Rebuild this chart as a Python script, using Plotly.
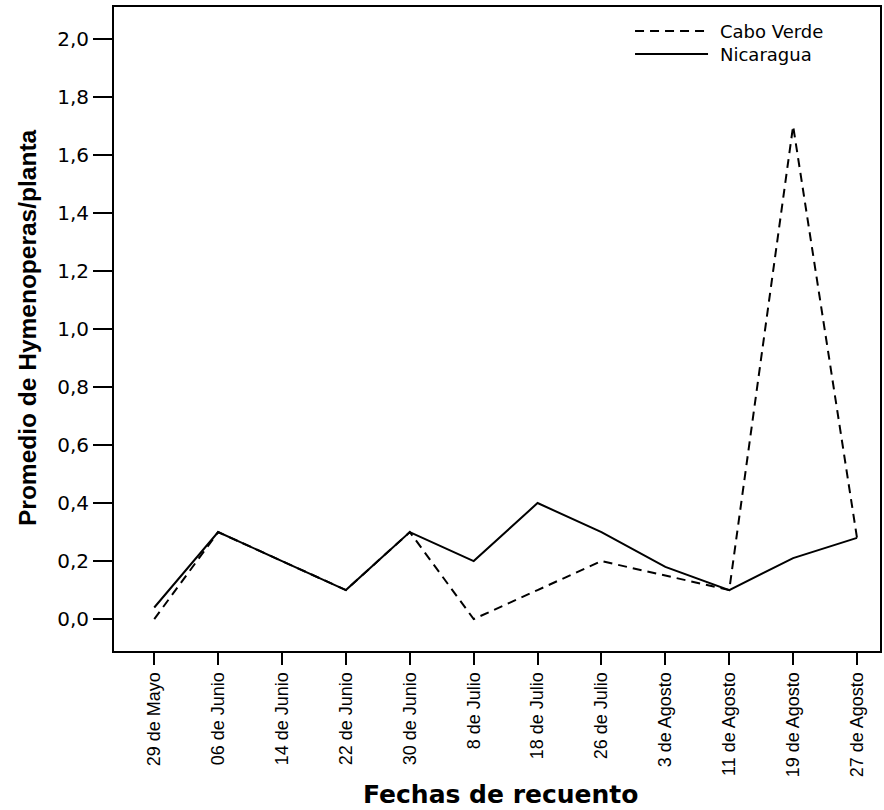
import plotly.graph_objects as go

fechas = ["29 de Mayo", "06 de Junio", "14 de Junio", "22 de Junio", "30 de Junio",
          "8 de Julio", "18 de Julio", "26 de Julio", "3 de Agosto", "11 de Agosto",
          "19 de Agosto", "27 de Agosto"]
cabo_verde = [0.0, 0.3, 0.2, 0.1, 0.3, 0.0, 0.1, 0.2, 0.15, 0.1, 1.7, 0.28]
nicaragua = [0.04, 0.3, 0.2, 0.1, 0.3, 0.2, 0.4, 0.3, 0.18, 0.1, 0.21, 0.28]
y_ticks = [0.0, 0.2, 0.4, 0.6, 0.8, 1.0, 1.2, 1.4, 1.6, 1.8, 2.0]
series_names = ["Cabo Verde", "Nicaragua"]
series_dash = ["9px,6px", "solid"]

xi = list(range(len(fechas)))

fig = go.Figure()
for name, vals, dash in zip(series_names, [cabo_verde, nicaragua], series_dash):
    fig.add_trace(go.Scatter(x=xi, y=vals, mode="lines", name=name, showlegend=False,
                             line=dict(color="black", width=2, dash=dash)))

# Manual legend (line samples + labels) in paper coordinates
leg_y = [0.9627, 0.9270]
shapes = []
annotations = []
for name, dash, yy in zip(series_names, series_dash, leg_y):
    shapes.append(dict(type="line", xref="paper", yref="paper", x0=0.6802, x1=0.7755,
                       y0=yy, y1=yy, line=dict(color="black", width=2, dash=dash)))
    annotations.append(dict(text=name, xref="paper", yref="paper", x=0.7885, y=yy,
                            xanchor="left", yanchor="middle", showarrow=False,
                            font=dict(family="DejaVu Sans", size=18, color="black")))

annotations.append(dict(text="<b>Promedio de Hymenoperas/planta</b>", xref="paper", yref="paper",
                        x=-0.1136, y=0.5031, xanchor="center", yanchor="middle", textangle=-90,
                        showarrow=False,
                        font=dict(family="Liberation Sans", size=24.5, color="black")))
annotations.append(dict(text="<b>Fechas de recuento</b>", xref="paper", yref="paper",
                        x=0.505, y=-0.2236, xanchor="center", yanchor="middle",
                        showarrow=False,
                        font=dict(family="DejaVu Sans", size=25, color="black")))

fig.update_layout(
    width=884, height=810,
    margin=dict(l=114, r=4, t=7, b=159),
    plot_bgcolor="white", paper_bgcolor="white",
    separators=",.",
    showlegend=False,
    shapes=shapes,
    annotations=annotations,
    font=dict(family="Liberation Sans", color="black"),
)
fig.update_xaxes(
    range=[-0.63, 11.36], automargin=False,
    tickmode="array", tickvals=xi, ticktext=fechas, tickangle=-90,
    tickfont=dict(family="Liberation Sans", size=18, color="black"),
    ticks="outside", ticklen=12, tickwidth=2, tickcolor="black",
    showline=True, linecolor="black", linewidth=2, mirror=True,
    showgrid=False, zeroline=False,
)
fig.update_yaxes(
    range=[-0.11, 2.11], automargin=False,
    tickmode="array", tickvals=y_ticks, tickformat=".1f",
    tickfont=dict(family="DejaVu Sans", size=20, color="black"),
    ticks="outside", ticklen=19, tickwidth=2, tickcolor="black",
    showline=True, linecolor="black", linewidth=2, mirror=True,
    showgrid=False, zeroline=False,
)

fig.write_html("out.html")
